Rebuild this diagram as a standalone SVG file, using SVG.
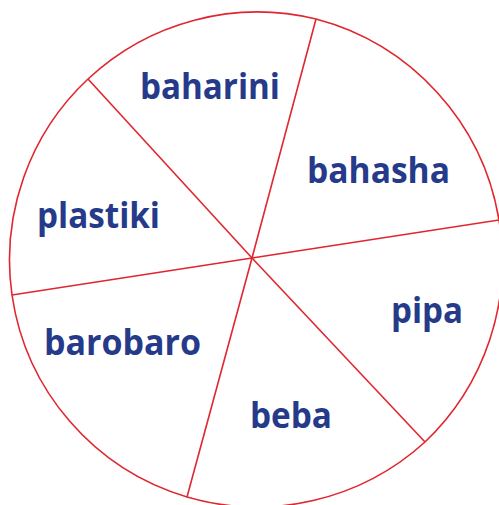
<svg xmlns="http://www.w3.org/2000/svg" width="499" height="505" viewBox="0 0 499 505">
<style>
.ln{stroke:#e0262f;stroke-width:1.6;fill:none}
.t{font-family:"Open Sans","Noto Sans",sans-serif;font-weight:700;font-size:35px;fill:#263a8a}
</style>
<rect width="499" height="505" fill="#fff"/>
<g id="connectors">
<path class="ln" d="M316,19 A250,250 0 0,1 499,220 A250,250 0 0,1 425,442 A250,250 0 0,1 187,497 A248,248 0 0,1 12,295 A248,248 0 0,1 88,79 A248,248 0 0,1 316,19 Z"/>
<line class="ln" x1="252" y1="258" x2="316" y2="19"/>
<line class="ln" x1="252" y1="258" x2="88" y2="79"/>
<line class="ln" x1="252" y1="258" x2="12" y2="295"/>
<line class="ln" x1="252" y1="258" x2="187" y2="497"/>
<line class="ln" x1="252" y1="258" x2="425" y2="442"/>
<line class="ln" x1="252" y1="258" x2="499" y2="220"/>
</g>
<g id="baharini"><text class="t" x="140" y="99" textLength="140" lengthAdjust="spacingAndGlyphs">baharini</text></g>
<g id="bahasha"><text class="t" x="307" y="183" textLength="143" lengthAdjust="spacingAndGlyphs">bahasha</text></g>
<g id="plastiki"><text class="t" x="37" y="228" textLength="123" lengthAdjust="spacingAndGlyphs">plastiki</text></g>
<g id="barobaro"><text class="t" x="44" y="355" textLength="157" lengthAdjust="spacingAndGlyphs">barobaro</text></g>
<g id="pipa"><text class="t" x="391" y="323" textLength="72" lengthAdjust="spacingAndGlyphs">pipa</text></g>
<g id="beba"><text class="t" x="250" y="428" textLength="82" lengthAdjust="spacingAndGlyphs">beba</text></g>
</svg>
